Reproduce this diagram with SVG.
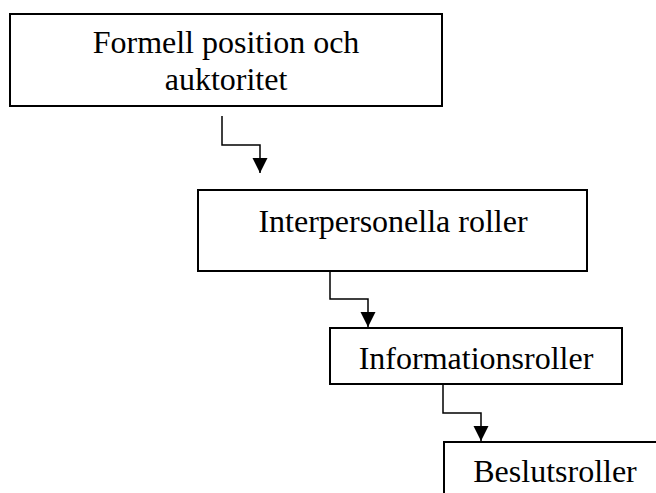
<svg xmlns="http://www.w3.org/2000/svg" width="656" height="493" viewBox="0 0 656 493">
<defs>
<style>
.box{fill:#fff;stroke:#000;stroke-width:2}
.lbl{font-family:"Liberation Serif","Times New Roman",serif;font-size:32px;fill:#000;text-anchor:middle}
.con{fill:none;stroke:#000;stroke-width:1.5}
</style>
<marker id="arr" markerUnits="userSpaceOnUse" markerWidth="16" markerHeight="17" refX="15" refY="7.5" orient="auto">
<path d="M0,0 L15,7.5 L0,15 Z" fill="#000"/>
</marker>
</defs>
<rect width="656" height="493" fill="#fff"/>
<g id="n1">
<rect class="box" x="10" y="14" width="432" height="92"/>
<text class="lbl" x="226" y="53">Formell position och</text>
<text class="lbl" x="226" y="90">auktoritet</text>
</g>
<g id="n2">
<rect class="box" x="198" y="190" width="389" height="81"/>
<text class="lbl" x="393" y="232">Interpersonella roller</text>
</g>
<g id="n3">
<rect class="box" x="330" y="328" width="292" height="56"/>
<text class="lbl" x="476" y="369">Informationsroller</text>
</g>
<g id="n4">
<rect class="box" x="444" y="442" width="230" height="80"/>
<text class="lbl" x="555" y="482">Beslutsroller</text>
</g>
<g id="connectors">
<path class="con" d="M222,116 V145 H260 V173" marker-end="url(#arr)"/>
<path class="con" d="M330,271 V299 H368 V327" marker-end="url(#arr)"/>
<path class="con" d="M443,384 V413 H481 V441" marker-end="url(#arr)"/>
</g>
</svg>
